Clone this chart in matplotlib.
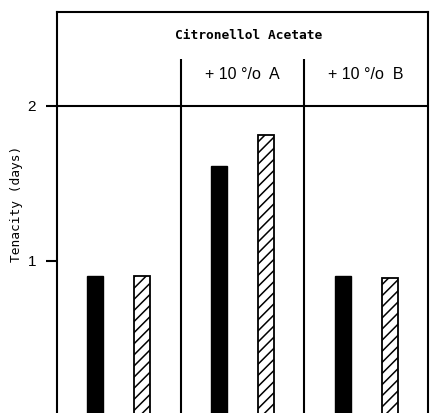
import matplotlib
matplotlib.use("Agg")
import matplotlib.pyplot as plt

# Tenacity of citronellol acetate alone and with 10 % additive A or B
groups = ["", "+ 10 °/o  A", "+ 10 °/o  B"]
solid_values = [0.90, 1.61, 0.90]
hatched_values = [0.90, 1.81, 0.89]
title_text = "Citronellol Acetate"
y_ticks = [1, 2]
y_label = "Tenacity (days)"

plt.rcParams["hatch.linewidth"] = 1.1

W, H, DPI = 430, 413, 100
fig = plt.figure(figsize=(W / DPI, H / DPI), dpi=DPI)
ax = fig.add_axes([57 / W, 0.0, 371 / W, (413 - 12) / H])

ax.set_xlim(0, 3)
ax.set_ylim(0.019, 2.606)

lw = 1.5
for side in ("left", "right", "top"):
    ax.spines[side].set_linewidth(lw)
ax.spines["bottom"].set_visible(False)

bar_w = 0.13
for i, (s, h) in enumerate(zip(solid_values, hatched_values)):
    ax.bar(i + 0.31, s, width=bar_w, bottom=0, color="black",
           edgecolor="black", linewidth=1.0)
    ax.bar(i + 0.69, h, width=bar_w, bottom=0, color="white",
           edgecolor="black", hatch="///", linewidth=1.3)

# header rule at y=2 and column dividers
ax.axhline(2, color="black", linewidth=lw, zorder=3)
for xd in (1, 2):
    ax.plot([xd, xd], [0.019, 2.303], color="black", linewidth=lw,
            solid_capstyle="butt", zorder=3)

ax.text(1.553, 2.454, title_text, ha="center", va="center",
        family="DejaVu Sans Mono", fontweight="bold", fontsize=9.3)
for i, g in enumerate(groups):
    if g:
        ax.text(i + 0.5, 2.2, g, ha="center", va="center",
                family="Liberation Sans", fontsize=11.5)

ax.set_xticks([])
ax.set_yticks(y_ticks)
ax.set_yticklabels([str(t) for t in y_ticks], fontsize=11,
                   family="Liberation Sans")
ax.tick_params(axis="y", length=8, width=lw, pad=7)
ax.tick_params(axis="y", which="both", right=False)

fig.text(17 / W, 1 - 204 / H, y_label, rotation=90, ha="center",
         va="center", family="DejaVu Sans Mono", fontsize=9.3)

fig.savefig("out.png", dpi=DPI, facecolor="white")
